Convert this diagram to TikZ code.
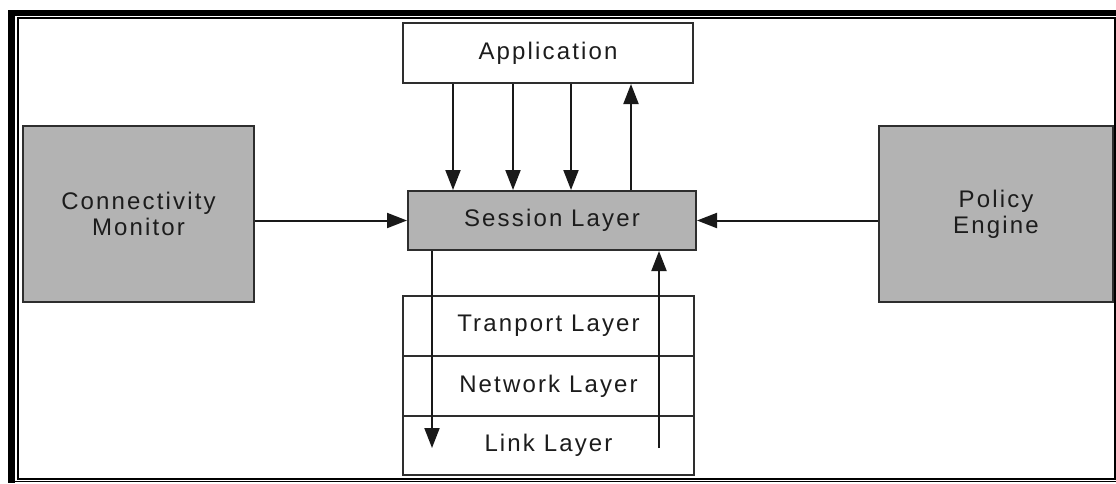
\documentclass[tikz,border=0pt]{standalone}
\usepackage{fontspec}
\setmainfont{Liberation Sans}[LetterSpace=9]
\usetikzlibrary{arrows.meta}
\definecolor{boxfill}{HTML}{B3B3B3}
\definecolor{boxline}{HTML}{2E2E2E}
\definecolor{txt}{HTML}{1C1C1C}
\begin{document}
\begin{tikzpicture}[x=1pt,y=-1pt,
  box/.style={draw=boxline, line width=2pt, inner sep=0pt, text=txt,
    font=\fontsize{24}{26}\selectfont, align=center},
  greybox/.style={box, fill=boxfill},
  whitebox/.style={box, fill=white},
  conn/.style={draw=black!90, line width=2pt, -{Triangle[length=20pt,width=15pt]}}
]
\useasboundingbox (0,0) rectangle (1116,483);
\fill[white] (0,0) rectangle (1116,483);

% page frame: heavy top/left edge, inner rule and bottom rule
\fill[black] (8,10) rectangle (1116,16);
\fill[black] (8,10) rectangle (15,483);
\draw[line width=2pt] (18,18) rectangle (1114.5,479);
\draw[line width=1.2pt] (15,481.6) -- (1116,481.6);

% blocks
\node[whitebox, minimum width=290pt, minimum height=60pt] (app) at (548,53) {Application};
\node[greybox, minimum width=288pt, minimum height=59pt] (ses) at (552,220.5) {Session Layer};
\node[greybox, minimum width=231pt, minimum height=176pt] (cm) at (138.5,214) {Connectivity\\Monitor};
\node[greybox, minimum width=234pt, minimum height=176pt] (pe) at (996,214) {Policy\\Engine};

% lower protocol stack
\node[whitebox, minimum width=291pt, minimum height=60pt] (tl) at (548.5,326) {Tranport Layer};
\node[whitebox, minimum width=291pt, minimum height=60pt] (nl) at (548.5,386) {Network Layer};
\node[whitebox, minimum width=291pt, minimum height=59pt] (ll) at (548.5,445.5) {Link Layer};

% x positions of the vertical connectors
\coordinate (a1) at (453,0);
\coordinate (a2) at (513,0);
\coordinate (a3) at (571,0);
\coordinate (a4) at (631,0);
\coordinate (dn) at (432,448);
\coordinate (up) at (659,448);

% application <-> session
\draw[conn] (app.south -| a1) -- (ses.north -| a1);
\draw[conn] (app.south -| a2) -- (ses.north -| a2);
\draw[conn] (app.south -| a3) -- (ses.north -| a3);
\draw[conn] (ses.north -| a4) -- (app.south -| a4);

% side inputs
\draw[conn] (cm.east |- ses.west) -- (ses.west);
\draw[conn] (pe.west |- ses.east) -- (ses.east);

% session <-> stack
\draw[conn] (ses.south -| dn) -- (dn);
\draw[conn] (up) -- (ses.south -| up);
\end{tikzpicture}
\end{document}
